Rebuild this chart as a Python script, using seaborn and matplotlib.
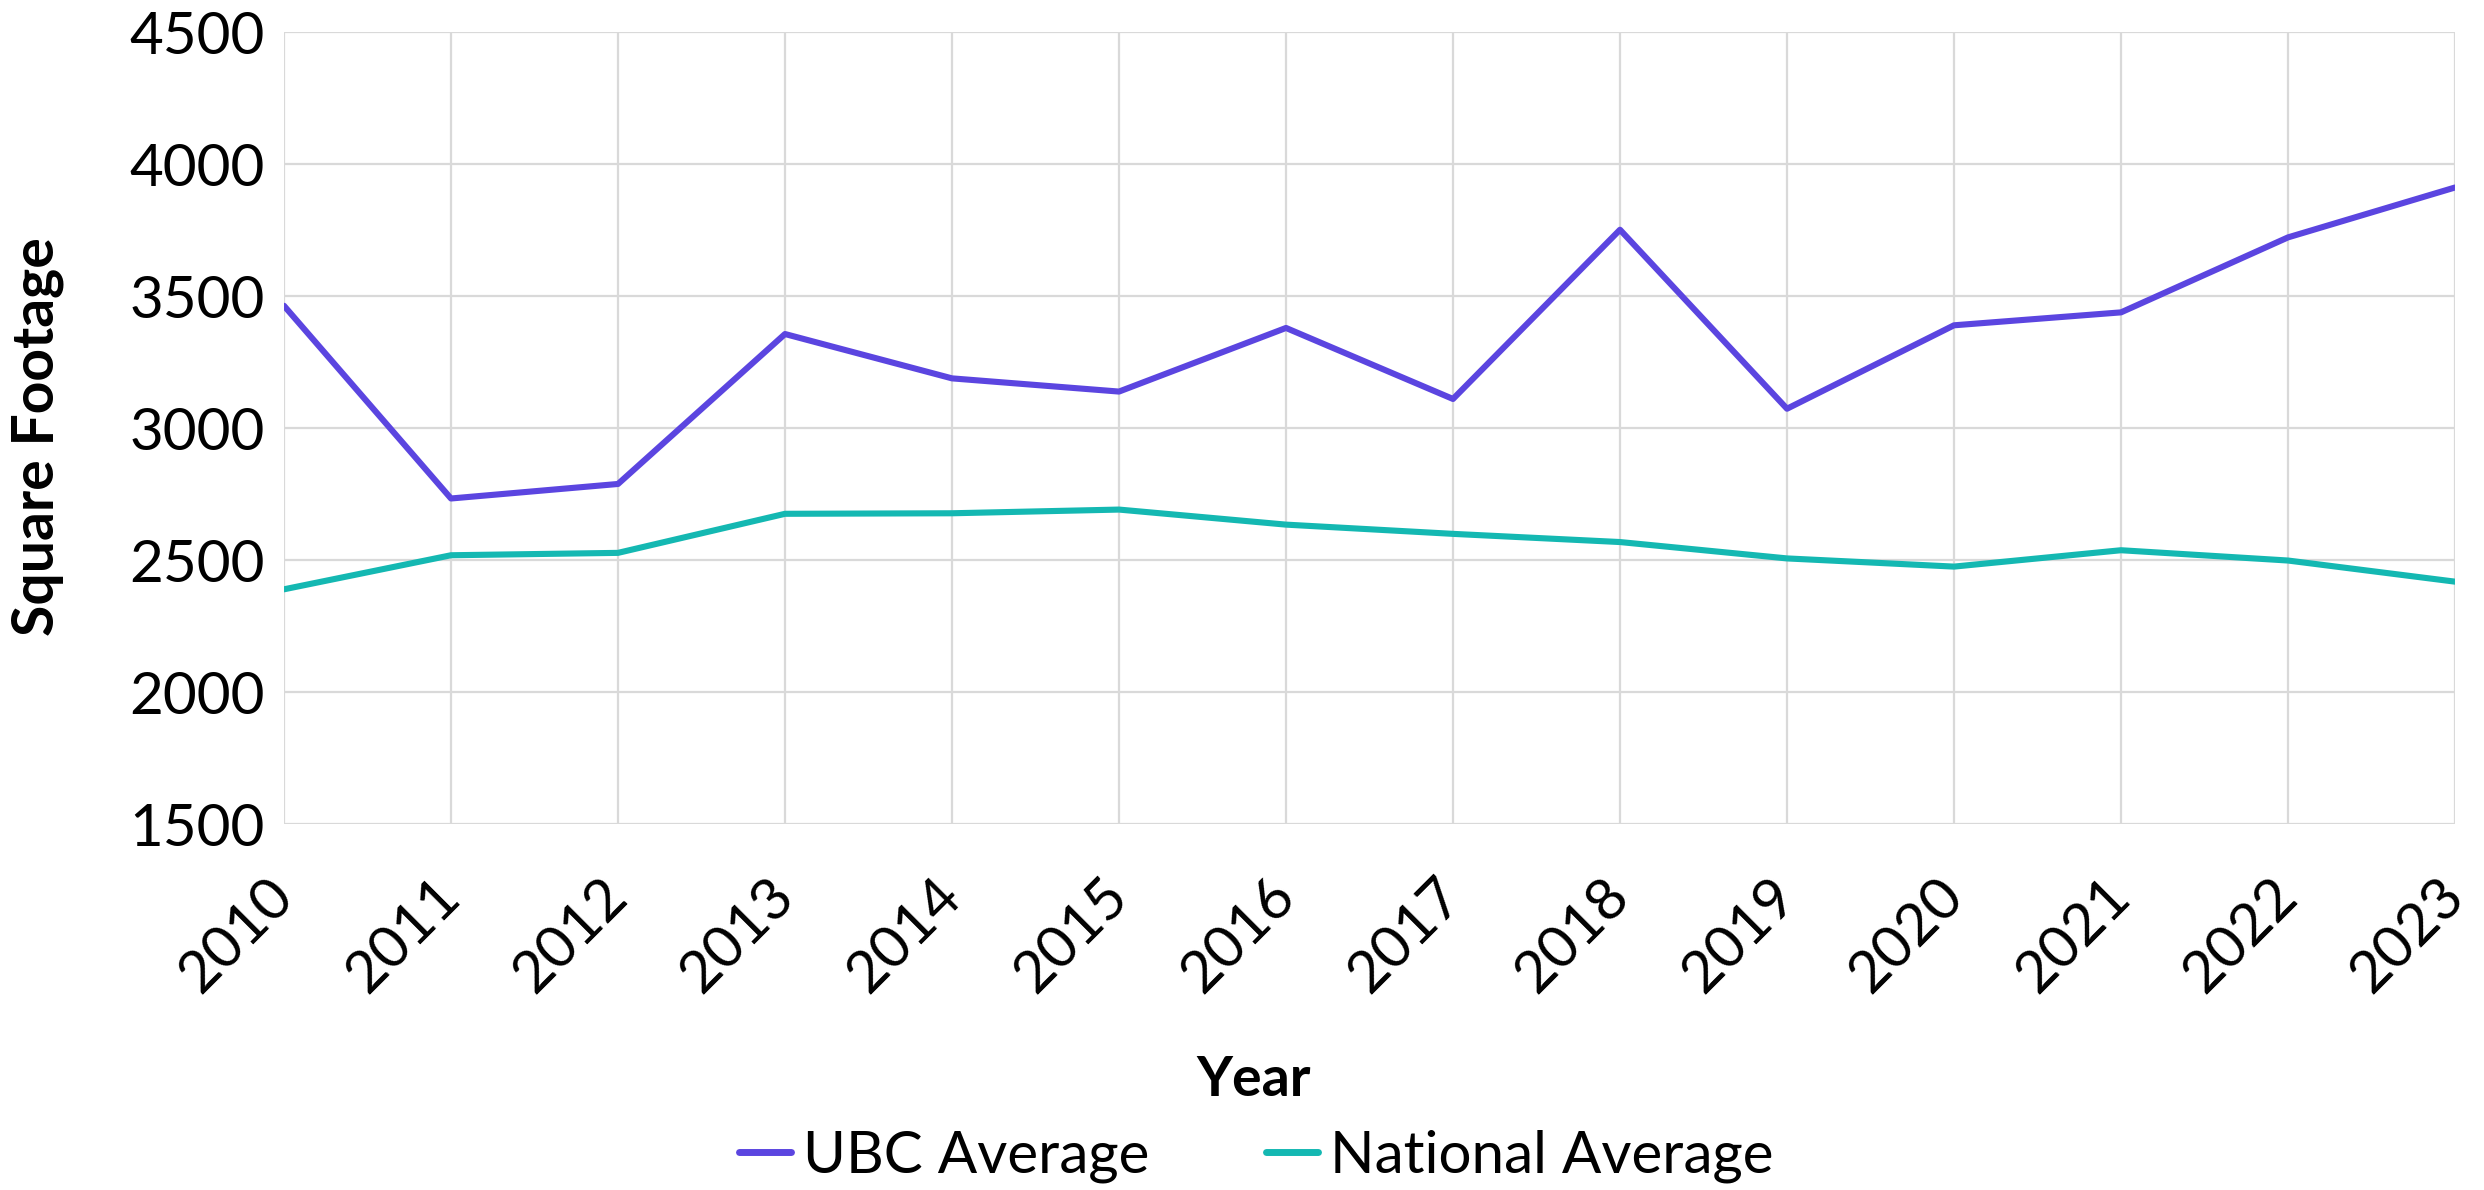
import matplotlib
matplotlib.use("Agg")
import matplotlib.pyplot as plt
import seaborn as sns
import pandas as pd
from matplotlib.lines import Line2D

years = [2010, 2011, 2012, 2013, 2014, 2015, 2016, 2017, 2018, 2019, 2020, 2021, 2022, 2023]
ubc_average = [3463, 2733, 2788, 3356, 3188, 3138, 3379, 3110, 3751, 3073, 3389, 3438, 3722, 3911]
national_average = [2389, 2518, 2527, 2675, 2677, 2691, 2634, 2599, 2568, 2506, 2475, 2537, 2498, 2418]
series_names = ["UBC Average", "National Average"]
y_ticks = [1500, 2000, 2500, 3000, 3500, 4000, 4500]

df = pd.DataFrame({
    "Year": years * 2,
    "Square Footage": ubc_average + national_average,
    "Series": [series_names[0]] * len(years) + [series_names[1]] * len(years),
})

sns.set_theme(style="white")
plt.rcParams["font.family"] = ["Lato", "DejaVu Sans"]
plt.rcParams["text.color"] = "black"
plt.rcParams["xtick.color"] = "black"
plt.rcParams["ytick.color"] = "black"

fig = plt.figure(figsize=(24.84, 11.90), dpi=100)
ax = fig.add_axes([284 / 2484, 1 - 824 / 1190, (2455 - 284) / 2484, (824 - 32) / 1190])

palette = {"UBC Average": "#5B45E0", "National Average": "#14B8B2"}
sns.lineplot(data=df, x="Year", y="Square Footage", hue="Series", palette=palette,
             linewidth=4.4, ax=ax, legend=False)

ax.set_xlim(years[0], years[-1])
ax.set_ylim(y_ticks[0], y_ticks[-1])
ax.set_xticks(years)
ax.set_yticks(y_ticks)
ax.set_xticklabels([str(y) for y in years], rotation=45, ha="right", va="center",
                   rotation_mode="anchor", fontsize=42, color="black")
ax.set_yticklabels([str(t) for t in y_ticks], fontsize=42, color="black")
ax.tick_params(axis="both", length=0)
ax.tick_params(axis="y", pad=14)
ax.tick_params(axis="x", pad=46)
ax.grid(True, color="#d9d9d9", linewidth=1.6)
for s in ax.spines.values():
    s.set_visible(False)
ax.set_xlabel("")
ax.set_ylabel("")

fig.text(38 / 2484, 1 - 437 / 1190, "Square Footage", rotation=90, ha="center", va="center",
         fontsize=41, fontweight="bold", color="black")
fig.text(1254 / 2484, 1 - 1080 / 1190, "Year", ha="center", va="center",
         fontsize=40, fontweight="bold", color="black")

handles = [Line2D([0], [0], color=palette[n], linewidth=5) for n in series_names]
leg = fig.legend(handles, series_names, loc="center", bbox_to_anchor=(1256 / 2484, 1 - 1156 / 1190),
                 ncol=2, frameon=False, fontsize=42, handlelength=0.9, handletextpad=0.2,
                 columnspacing=2.0)
for t in leg.get_texts():
    t.set_color("black")

fig.savefig("out.png", dpi=100)
